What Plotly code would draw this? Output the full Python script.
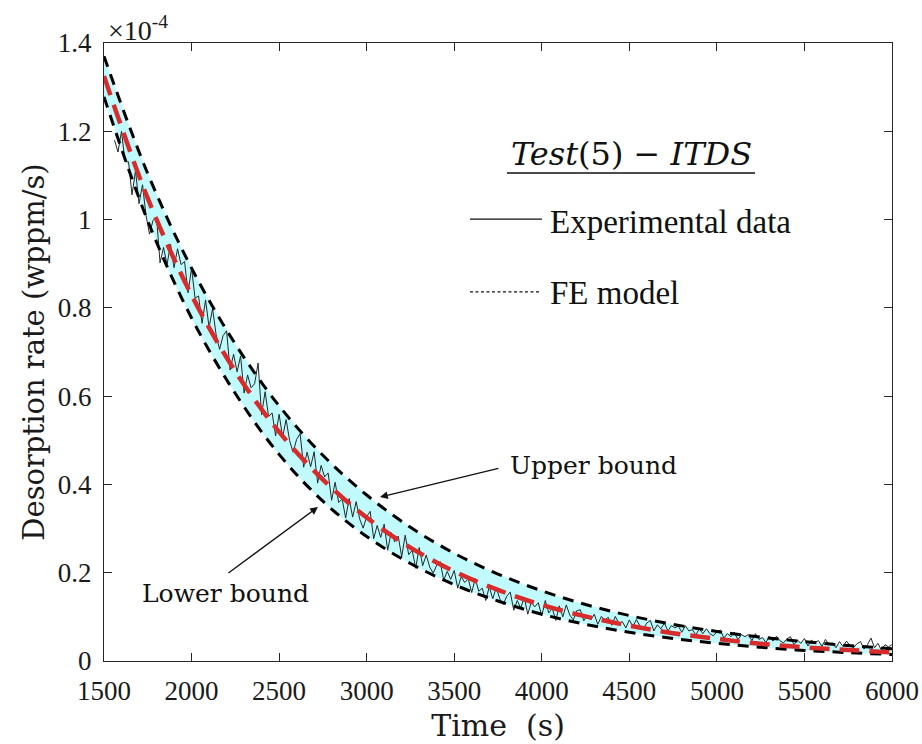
import plotly.graph_objects as go

# ---- data (values in units of 1e-4 wppm/s) ----
model_t = [1500, 1750, 2000, 2250, 2500, 2750, 3000, 3250, 3500, 3750, 4000,
           4250, 4500, 4750, 5000, 5250, 5500, 5750, 6000]
fe_model = [1.325, 1.048, 0.829, 0.656, 0.519, 0.411, 0.325, 0.257, 0.203, 0.161,
            0.127, 0.101, 0.080, 0.063, 0.050, 0.039, 0.031, 0.025, 0.0195]
upper_bound = [1.370, 1.104, 0.890, 0.718, 0.578, 0.466, 0.376, 0.303, 0.244, 0.197,
               0.159, 0.128, 0.103, 0.083, 0.067, 0.054, 0.044, 0.035, 0.028]
lower_bound = [1.278, 0.997, 0.777, 0.606, 0.468, 0.362, 0.282, 0.221, 0.173, 0.136,
               0.106, 0.083, 0.065, 0.051, 0.040, 0.031, 0.024, 0.019, 0.0145]

exp_t = list(range(1560, 6001, 20))
exp_data = [
    1.180, 1.153, 1.200, 1.131, 1.131, 1.056, 1.111, 1.036, 1.079, 1.009,
    0.967, 0.998, 1.006, 0.902, 0.937, 0.898, 0.944, 0.891, 0.934, 0.898,
    0.905, 0.834, 0.890, 0.822, 0.827, 0.765, 0.818, 0.756, 0.798, 0.740,
    0.706, 0.737, 0.748, 0.659, 0.695, 0.655, 0.691, 0.607, 0.648, 0.619,
    0.628, 0.675, 0.558, 0.610, 0.554, 0.562, 0.510, 0.559, 0.507, 0.547,
    0.499, 0.473, 0.502, 0.515, 0.439, 0.473, 0.440, 0.474, 0.403, 0.443,
    0.417, 0.426, 0.364, 0.405, 0.359, 0.367, 0.324, 0.368, 0.326, 0.361,
    0.322, 0.301, 0.327, 0.339, 0.277, 0.307, 0.280, 0.310, 0.251, 0.291,
    0.270, 0.283, 0.236, 0.285, 0.241, 0.251, 0.210, 0.257, 0.216, 0.240,
    0.213, 0.199, 0.217, 0.225, 0.183, 0.203, 0.185, 0.205, 0.165, 0.191,
    0.178, 0.186, 0.155, 0.187, 0.158, 0.165, 0.137, 0.168, 0.141, 0.166,
    0.141, 0.128, 0.147, 0.156, 0.115, 0.137, 0.120, 0.144, 0.106, 0.133,
    0.1225, 0.132, 0.102, 0.137, 0.109, 0.119, 0.092, 0.125, 0.100, 0.127,
    0.104, 0.093, 0.114, 0.116, 0.091, 0.104, 0.093, 0.106, 0.083, 0.101,
    0.093, 0.099, 0.081, 0.101, 0.085, 0.089, 0.075, 0.093, 0.078, 0.094,
    0.080, 0.073, 0.086, 0.092, 0.068, 0.082, 0.073, 0.086, 0.068, 0.080,
    0.075, 0.079, 0.065, 0.080, 0.068, 0.071, 0.059, 0.073, 0.062, 0.073,
    0.062, 0.057, 0.066, 0.070, 0.052, 0.062, 0.055, 0.065, 0.048, 0.060,
    0.055, 0.060, 0.046, 0.062, 0.049, 0.053, 0.042, 0.056, 0.045, 0.056,
    0.046, 0.041, 0.050, 0.055, 0.037, 0.047, 0.040, 0.051, 0.034, 0.047,
    0.042, 0.046, 0.033, 0.049, 0.037, 0.041, 0.030, 0.044, 0.033, 0.045,
    0.035, 0.030, 0.039, 0.044, 0.027, 0.037, 0.052, 0.030, 0.040, 0.024,
    0.037, 0.032, 0.037]

x_ticks = [1500, 2000, 2500, 3000, 3500, 4000, 4500, 5000, 5500, 6000]
y_ticks = [0, 0.2, 0.4, 0.6, 0.8, 1.0, 1.2, 1.4]
y_ticklabels = ["0", "0.2", "0.4", "0.6", "0.8", "1", "1.2", "1.4"]

TIMES = "Liberation Serif"
CM = "DejaVu Serif"
AX = "#262626"

fig = go.Figure()

# shaded band between bounds
fig.add_trace(go.Scatter(x=model_t, y=lower_bound, mode="lines",
                         line=dict(width=0, shape="spline"), showlegend=False,
                         hoverinfo="skip"))
fig.add_trace(go.Scatter(x=model_t, y=upper_bound, mode="lines",
                         line=dict(width=0, shape="spline"), fill="tonexty",
                         fillcolor="rgb(192,250,252)", showlegend=False,
                         hoverinfo="skip"))
# experimental data
fig.add_trace(go.Scatter(x=exp_t, y=exp_data, mode="lines",
                         line=dict(color="#1e2a2a", width=1), showlegend=False))
# bounds
for yb in (upper_bound, lower_bound):
    fig.add_trace(go.Scatter(x=model_t, y=yb, mode="lines",
                             line=dict(color="black", width=3, dash="11px,8px",
                                       shape="spline"), showlegend=False))
# FE model
fig.add_trace(go.Scatter(x=model_t, y=fe_model, mode="lines",
                         line=dict(color="rgb(216,44,44)", width=4.5,
                                   dash="20px,10px", shape="spline"),
                         showlegend=False))

annotations = [
    dict(x=1500, y=1.4, xref="x", yref="y", xanchor="left", yanchor="bottom",
         xshift=2, yshift=-5, showarrow=False,
         text="×10<sup>-4</sup>", font=dict(family=TIMES, size=28, color="#1a1a1a")),
    dict(x=4510, y=1.148, xref="x", yref="y", xanchor="center", yanchor="middle",
         showarrow=False, text="<i>Test</i>(5) − <i>ITDS</i>",
         font=dict(family=CM, size=32, color="#111")),
    dict(x=4036, y=0.995, xref="x", yref="y", xanchor="left", yanchor="middle",
         showarrow=False, text="Experimental data",
         font=dict(family=TIMES, size=33, color="#111")),
    dict(x=4036, y=0.834, xref="x", yref="y", xanchor="left", yanchor="middle",
         showarrow=False, text="FE model",
         font=dict(family=TIMES, size=33, color="#111")),
    dict(x=3807, y=0.444, xref="x", yref="y", xanchor="left", yanchor="middle",
         showarrow=False, text="Upper bound",
         font=dict(family=CM, size=25, color="#111")),
    dict(x=1706, y=0.154, xref="x", yref="y", xanchor="left", yanchor="middle",
         showarrow=False, text="Lower bound",
         font=dict(family=CM, size=25, color="#111")),
    # arrows
    dict(x=3076, y=0.3715, ax=3761, ay=0.437, xref="x", yref="y",
         axref="x", ayref="y", text="", showarrow=True, arrowhead=2,
         arrowsize=1.2, arrowwidth=1.3, arrowcolor="#111"),
    dict(x=2722, y=0.349, ax=2202, ay=0.197, xref="x", yref="y",
         axref="x", ayref="y", text="", showarrow=True, arrowhead=2,
         arrowsize=1.2, arrowwidth=1.3, arrowcolor="#111"),
]

shapes = [
    dict(type="line", xref="x", yref="y", x0=3801, x1=5218, y0=1.1056, y1=1.1056,
         line=dict(color="#111", width=1.6)),
    dict(type="line", xref="x", yref="y", x0=3590, x1=4001, y0=1.001, y1=1.001,
         line=dict(color="#111", width=1.3)),
    dict(type="line", xref="x", yref="y", x0=3590, x1=3990, y0=0.836, y1=0.836,
         line=dict(color="#111", width=1.2, dash="3px,2.5px")),
]

fig.update_layout(
    width=922, height=744,
    margin=dict(l=104, r=30, t=43, b=83),
    paper_bgcolor="white", plot_bgcolor="white",
    annotations=annotations, shapes=shapes,
    showlegend=False,
)
fig.update_xaxes(range=[1500, 6000], tickvals=x_ticks,
                 ticks="inside", ticklen=8, tickwidth=1, tickcolor=AX,
                 showline=True, linecolor=AX, linewidth=1.2, mirror="ticks",
                 showgrid=False, zeroline=False, ticklabelstandoff=5,
                 ticklabeloverflow="allow",
                 tickfont=dict(family=TIMES, size=27, color="#1a1a1a"),
                 title=dict(text="Time  (s)", font=dict(family=CM, size=30, color="#1a1a1a"),
                            standoff=10),
                 automargin=False)
fig.update_yaxes(range=[0, 1.4], tickvals=y_ticks, ticktext=y_ticklabels,
                 ticks="inside", ticklen=8, tickwidth=1, tickcolor=AX,
                 showline=True,
                 linecolor=AX, linewidth=1.2, mirror="ticks",
                 showgrid=False, zeroline=False, ticklabelstandoff=6,
                 tickfont=dict(family=TIMES, size=27, color="#1a1a1a"),
                 title=dict(text="Desorption rate (wppm/s)",
                            font=dict(family=CM, size=29, color="#1a1a1a"),
                            standoff=4),
                 automargin=False)

fig.write_html("out.html",
               config={"displayModeBar": False},
               post_script="document.body.style.margin='0';"
                           "document.body.style.overflow='hidden';")
